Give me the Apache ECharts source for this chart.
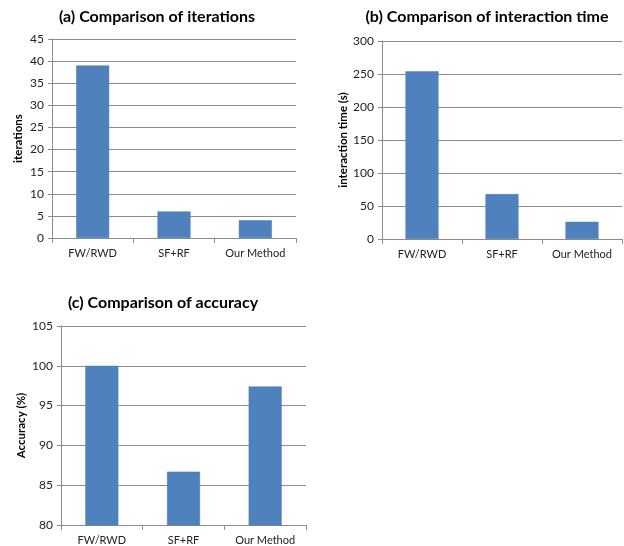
<!DOCTYPE html>
<html>
<head>
<meta charset="utf-8">
<script src="https://cdn.jsdelivr.net/npm/echarts@6/dist/echarts.min.js"></script>
<style>
  html, body { margin: 0; padding: 0; background: #fff; }
  #main { width: 624px; height: 546px; }
</style>
</head>
<body>
<div id="main"></div>
<script>
// categories shared by all three panels
var methods = ['FW/RWD', 'SF+RF', 'Our Method'];

// values
var iterations = [39, 6, 4];
var interactionTime = [254, 68, 26];
var accuracy = [100, 86.7, 97.4];

var titles = ['(a) Comparison of iterations', '(b) Comparison of interaction time', '(c) Comparison of accuracy'];
var yNames = ['iterations', 'interaction time (s)', 'Accuracy (%)'];

var FONT = 'Lato';
var gridColor = '#8c8c8c';
var barColor = '#4f81bd';

var chart = echarts.init(document.getElementById('main'));

function xAxisFor(i) {
    return {
        type: 'category',
        gridIndex: i,
        data: methods,
        axisLine: { lineStyle: { color: gridColor, width: 1 } },
        axisTick: { show: true, length: 5, lineStyle: { color: gridColor } },
        axisLabel: { color: '#222', fontFamily: FONT, fontSize: 11, margin: 10 }
    };
}

function yAxisFor(i, min, max, interval, nameGap) {
    return {
        type: 'value',
        gridIndex: i,
        min: min,
        max: max,
        interval: interval,
        name: yNames[i],
        nameLocation: 'middle',
        nameGap: nameGap,
        nameTextStyle: { color: '#000', fontFamily: FONT, fontSize: 11.5, fontWeight: 'bold' },
        axisLine: { show: true, lineStyle: { color: gridColor } },
        axisTick: { show: true, length: 4, lineStyle: { color: gridColor } },
        axisLabel: { color: '#222', fontFamily: FONT, fontSize: 12, margin: 8 },
        splitLine: { lineStyle: { color: gridColor, width: 1 } }
    };
}

function barSeries(i, vals) {
    return {
        type: 'bar',
        xAxisIndex: i,
        yAxisIndex: i,
        data: vals,
        barWidth: 33,
        itemStyle: { color: barColor, borderColor: '#4a7ab3', borderWidth: 0.5 }
    };
}

var option = {
    backgroundColor: '#fff',
    animation: false,
    title: [
        { text: titles[0], left: 152, top: 4, textAlign: 'center' },
        { text: titles[1], left: 482, top: 4, textAlign: 'center' },
        { text: titles[2], left: 158, top: 290, textAlign: 'center' }
    ].map(function (t) {
        t.textStyle = { color: '#000', fontFamily: FONT, fontSize: 16, fontWeight: 'bold' };
        return t;
    }),
    grid: [
        { left: 52, top: 39, width: 244, height: 199 },
        { left: 382, top: 41, width: 240, height: 198 },
        { left: 61, top: 326, width: 245, height: 199 }
    ],
    xAxis: [xAxisFor(0), xAxisFor(1), xAxisFor(2)],
    yAxis: [
        yAxisFor(0, 0, 45, 5, 28),
        yAxisFor(1, 0, 300, 50, 32),
        yAxisFor(2, 80, 105, 5, 34)
    ],
    series: [
        barSeries(0, iterations),
        barSeries(1, interactionTime),
        barSeries(2, accuracy)
    ]
};

chart.setOption(option);
</script>
</body>
</html>
